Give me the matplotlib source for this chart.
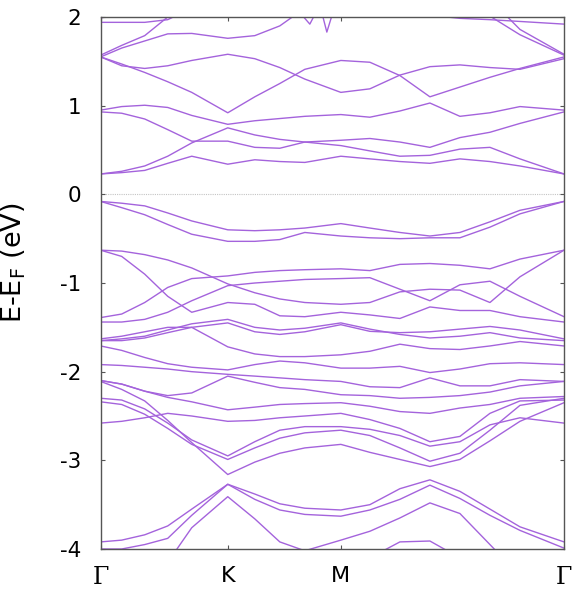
#!/usr/bin/env python3

import matplotlib.pyplot as plt

# k-path sample positions (path length units, G=0, K=127, M=240, G=463)
K_PATH = [0, 21, 44, 67, 91, 127, 154, 179, 204, 240, 269, 299, 329, 359, 389, 419, 463]
SYM_POS = [0, 127, 240, 463]
SYM_LABELS = ['Γ', 'K', 'M', 'Γ']

# conduction bands (eV), values above 2 are off-chart
CB1 = [0.23, 0.245, 0.27, 0.35, 0.43, 0.34, 0.39, 0.37, 0.36, 0.43, 0.40, 0.37, 0.35, 0.40, 0.37, 0.32, 0.23]
CB2 = [0.23, 0.26, 0.32, 0.43, 0.58, 0.75, 0.67, 0.62, 0.59, 0.55, 0.49, 0.43, 0.44, 0.51, 0.53, 0.40, 0.23]
CB3 = [0.93, 0.915, 0.85, 0.73, 0.60, 0.60, 0.53, 0.52, 0.59, 0.61, 0.63, 0.59, 0.53, 0.64, 0.70, 0.80, 0.93]
CB4 = [0.95, 0.99, 1.005, 0.98, 0.89, 0.79, 0.83, 0.855, 0.88, 0.90, 0.87, 0.94, 1.03, 0.88, 0.92, 0.99, 0.95]
CB5 = [1.55, 1.47, 1.375, 1.27, 1.15, 0.92, 1.10, 1.25, 1.41, 1.51, 1.49, 1.34, 1.10, 1.21, 1.32, 1.42, 1.55]
CB6 = [1.55, 1.45, 1.42, 1.45, 1.51, 1.58, 1.53, 1.43, 1.30, 1.15, 1.19, 1.345, 1.44, 1.46, 1.43, 1.41, 1.53]
CB7 = [1.55, 1.65, 1.73, 1.81, 1.815, 1.76, 1.79, 1.90, 2.1, 2.3, 2.3, 2.3, 2.3, 2.3, 2.2, 1.86, 1.58]
CB8 = [1.57, 1.68, 1.79, 2.0, 2.25, 2.3, 2.3, 2.3, 2.3, 2.3, 2.3, 2.3, 2.3, 2.2, 2.01, 1.80, 1.57]
CB9 = [1.94, 1.94, 1.94, 1.97, 2.1, 2.3, 2.3, 2.3, 2.3, 2.3, 2.3, 2.3, 2.02, 1.985, 1.97, 1.95, 1.92]
CB10 = [1.99, 2.03, 2.2, 2.3, 2.3, 2.3, 2.3, 2.3, 2.3, 2.3, 2.3, 2.3, 2.3, 2.3, 2.3, 2.3, 2.3]

# little glitch near M at the top edge
SPIKE_K = [199, 209, 215, 221, 226, 232]
SPIKE_E = [2.05, 1.92, 2.05, 2.05, 1.83, 2.05]

# valence bands (eV), values below -4 are off-chart
VB1 = [-0.08, -0.10, -0.13, -0.21, -0.30, -0.40, -0.41, -0.40, -0.38, -0.33, -0.38, -0.43, -0.47, -0.43, -0.31, -0.18, -0.08]
VB2 = [-0.08, -0.15, -0.23, -0.34, -0.45, -0.53, -0.53, -0.51, -0.43, -0.47, -0.49, -0.50, -0.49, -0.49, -0.37, -0.22, -0.08]
VB3 = [-0.63, -0.64, -0.68, -0.74, -0.83, -1.01, -1.11, -1.18, -1.22, -1.24, -1.22, -1.10, -1.07, -1.08, -1.22, -0.93, -0.63]
VB4 = [-0.63, -0.70, -0.90, -1.15, -1.33, -1.22, -1.24, -1.37, -1.38, -1.33, -1.36, -1.40, -1.27, -1.31, -1.31, -1.38, -1.44]
VB5 = [-1.39, -1.35, -1.22, -1.05, -0.95, -0.92, -0.88, -0.86, -0.85, -0.84, -0.86, -0.79, -0.78, -0.80, -0.84, -0.73, -0.63]
VB6 = [-1.44, -1.44, -1.41, -1.33, -1.20, -1.03, -1.00, -0.98, -0.96, -0.95, -0.94, -1.07, -1.20, -1.02, -0.98, -1.15, -1.38]
VB7 = [-1.65, -1.63, -1.60, -1.53, -1.46, -1.41, -1.50, -1.53, -1.51, -1.45, -1.52, -1.58, -1.62, -1.60, -1.56, -1.62, -1.65]
VB8 = [-1.65, -1.65, -1.62, -1.56, -1.50, -1.45, -1.55, -1.58, -1.55, -1.47, -1.545, -1.56, -1.55, -1.52, -1.49, -1.53, -1.63]
VB9 = [-1.63, -1.60, -1.55, -1.50, -1.50, -1.72, -1.80, -1.83, -1.83, -1.81, -1.77, -1.69, -1.74, -1.75, -1.71, -1.66, -1.71]
VB10 = [-1.71, -1.76, -1.84, -1.91, -1.95, -1.98, -1.92, -1.88, -1.90, -1.96, -1.96, -1.94, -2.01, -1.97, -1.91, -1.90, -1.92]
VB11 = [-1.92, -1.93, -1.95, -1.97, -2.00, -2.03, -2.05, -2.07, -2.09, -2.11, -2.17, -2.18, -2.07, -2.16, -2.16, -2.09, -2.11]
VB12 = [-2.10, -2.14, -2.22, -2.27, -2.24, -2.05, -2.12, -2.18, -2.20, -2.26, -2.27, -2.30, -2.29, -2.27, -2.23, -2.16, -2.11]
VB13 = [-2.10, -2.14, -2.22, -2.29, -2.34, -2.43, -2.40, -2.37, -2.36, -2.35, -2.39, -2.45, -2.47, -2.41, -2.37, -2.30, -2.28]
VB14 = [-2.58, -2.56, -2.52, -2.47, -2.50, -2.56, -2.55, -2.52, -2.50, -2.47, -2.54, -2.64, -2.79, -2.73, -2.47, -2.33, -2.32]
VB15 = [-2.30, -2.32, -2.42, -2.58, -2.77, -2.95, -2.79, -2.66, -2.62, -2.62, -2.65, -2.72, -2.84, -2.79, -2.60, -2.52, -2.58]
VB16 = [-2.34, -2.37, -2.48, -2.64, -2.82, -2.99, -2.86, -2.75, -2.69, -2.66, -2.72, -2.86, -3.01, -2.92, -2.66, -2.38, -2.30]
VB17 = [-2.11, -2.20, -2.33, -2.55, -2.80, -3.16, -3.02, -2.92, -2.86, -2.82, -2.91, -2.99, -3.07, -2.99, -2.78, -2.56, -2.35]
VB18 = [-3.92, -3.90, -3.84, -3.74, -3.55, -3.27, -3.38, -3.49, -3.54, -3.56, -3.50, -3.32, -3.22, -3.35, -3.55, -3.75, -3.92]
VB19 = [-4.00, -4.00, -3.95, -3.88, -3.62, -3.27, -3.44, -3.56, -3.61, -3.63, -3.56, -3.44, -3.28, -3.43, -3.62, -3.79, -3.99]
VB20 = [-4.5, -4.5, -4.5, -4.15, -3.76, -3.41, -3.66, -3.92, -4.02, -3.90, -3.80, -3.65, -3.48, -3.60, -3.95, -4.3, -4.5]
VB21 = [-4.5, -4.5, -4.5, -4.5, -4.5, -4.5, -4.5, -4.5, -4.5, -4.5, -4.1, -3.92, -3.91, -4.1, -4.5, -4.5, -4.5]

BANDS = [CB1, CB2, CB3, CB4, CB5, CB6, CB7, CB8, CB9, CB10,
         VB1, VB2, VB3, VB4, VB5, VB6, VB7, VB8, VB9, VB10, VB11,
         VB12, VB13, VB14, VB15, VB16, VB17, VB18, VB19, VB20, VB21]

LINE_COLOR = '#a463dc'
FRAME_COLOR = '#555555'


def make_plot():
    fig = plt.figure(figsize=(5.73, 5.93), dpi=100)
    ax = fig.add_axes([0.1757, 0.0742, 0.8086, 0.8971])

    ax.axhline(0, color='#c4c4c4', lw=0.8, ls=(0, (1, 1)), zorder=1)

    for band in BANDS:
        ax.plot(K_PATH, band, color=LINE_COLOR, lw=1.0, zorder=2)
    ax.plot(SPIKE_K, SPIKE_E, color=LINE_COLOR, lw=1.0, zorder=2)

    ax.set_xlim(SYM_POS[0], SYM_POS[-1])
    ax.set_ylim(-4, 2)

    ax.set_xticks(SYM_POS)
    ax.set_xticklabels(SYM_LABELS, fontsize=16)
    for lab in ax.get_xticklabels():
        if lab.get_text() == 'Γ':
            lab.set_fontfamily('DejaVu Serif')
            lab.set_fontsize(17)
    ax.set_yticks([-4, -3, -2, -1, 0, 1, 2])
    ax.set_yticklabels(['-4', '-3', '-2', '-1', '0', '1', '2'], fontsize=15.5)

    ax.tick_params(axis='both', direction='in', length=3, width=0.8,
                   color=FRAME_COLOR, top=True, right=True)
    ax.tick_params(axis='y', pad=14)
    ax.tick_params(axis='x', pad=12)

    for sp in ax.spines.values():
        sp.set_color(FRAME_COLOR)
        sp.set_linewidth(1.0)

    ax.set_ylabel('E-E$_\\mathregular{F}$ (eV)', fontsize=19.5)
    ax.yaxis.set_label_coords(-0.156, 0.538)

    fig.savefig('out.png', dpi=100)


if __name__ == '__main__':
    make_plot()
